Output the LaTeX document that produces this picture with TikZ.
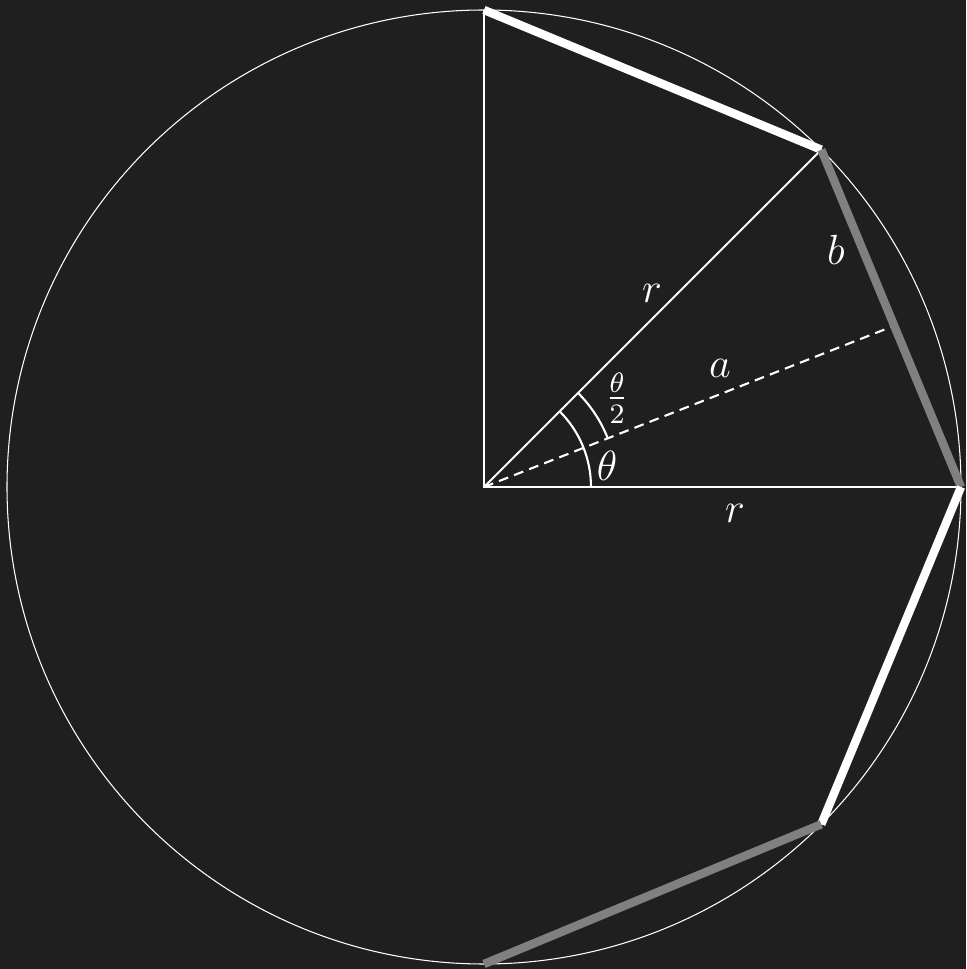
\documentclass[tikz,border=0pt]{standalone}
\usepackage{amsmath,amssymb}
\usepackage{xcolor}
\usepackage{tikz}
\usetikzlibrary{calc}
\definecolor{boardBg}{HTML}{1F1F20}
\definecolor{chalkW}{HTML}{FFFFFF}
\definecolor{chalkG}{HTML}{808080}

\begin{document}
\begin{tikzpicture}[font=\large,text=chalkW]
\def\rr{4.77}
\fill[boardBg] (0,0) rectangle (9.66,9.69);
\useasboundingbox (0,0) rectangle (9.66,9.69);
\begin{scope}[shift={(4.84,4.82)}]
\coordinate (O) at (0,0);
\foreach \ang/\nm in {90/P0,45/P1,0/P2,-45/P3,-90/P4} {\coordinate (\nm) at (\ang:\rr);}
\coordinate (M) at (4.07,1.60);
\draw[chalkW,line width=0.3pt] (O) circle (\rr);
% radii
\draw[chalkW,line width=0.6pt] (P0) -- (O) -- (P2);
\draw[chalkW,line width=0.6pt] (O) -- (P1);
\draw[chalkW,line width=0.6pt,dash pattern=on 2.8pt off 1.8pt] (O) -- (M);
% angle marks
\draw[chalkW,line width=0.6pt] (0:1.07) arc[start angle=0,end angle=45,radius=1.07];
\draw[chalkW,line width=0.6pt] (21.5:1.33) arc[start angle=21.5,end angle=45,radius=1.33];
% polygon sides
\draw[chalkW,line width=2.4pt] (P0) -- (P1);
\draw[chalkG,line width=2.4pt] (P1) -- (P2);
\draw[chalkW,line width=2.4pt] (P2) -- (P3);
\draw[chalkG,line width=2.4pt] (P3) -- (P4);
% labels
\node (lbTh) at (1.23,0.21) {$\theta$};
\node (lbHalf) at (1.33,0.89) {$\frac{\theta}{2}$};
\node (lbA) at (2.36,1.19) {$a$};
\node (lbRu) at (1.68,1.94) {$r$};
\node (lbB) at (3.52,2.37) {$b$};
\node (lbRd) at (2.51,-0.26) {$r$};
\end{scope}
\end{tikzpicture}
\end{document}
